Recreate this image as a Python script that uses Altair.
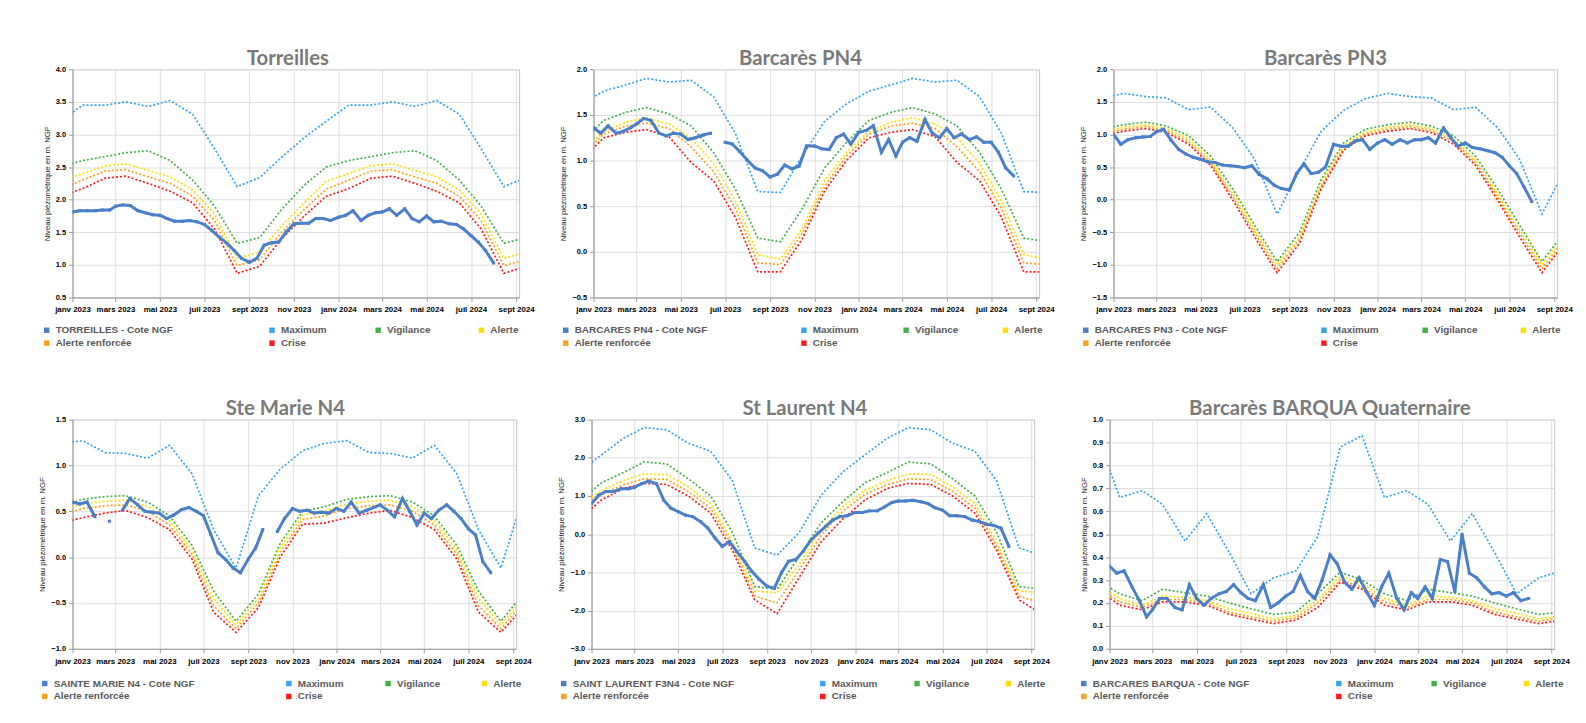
import altair as alt
import pandas as pd

FONT = "Liberation Sans"
TITLE_FONT = "Lato"

MONTHS_FR = ["janv", "févr", "mars", "avr", "mai", "juin", "juil", "août", "sept", "oct", "nov", "déc"]
SERIES_NAMES = ["Maximum", "Vigilance", "Alerte", "Alerte renforcée", "Crise"]
OBS_COLOR = "#4a7fc9"
THR_COLORS = ["#35a3f2", "#45b04a", "#ffe000", "#ffa21a", "#ff1a1a"]
COLOR_OF = dict(zip(SERIES_NAMES, THR_COLORS))

OBS_MONTHS = [(2023, m) for m in range(1, 13)] + [(2024, m) for m in range(1, 9)]
obs_dates = [f"{y}-{m:02d}-{d:02d}" for (y, m) in OBS_MONTHS for d in (1, 11, 21)]
THR_MONTHS = [(2022, 12)] + [(2023, m) for m in range(1, 13)] + [(2024, m) for m in range(1, 10)]
thr_dates = [f"{y}-{m:02d}-15" for (y, m) in THR_MONTHS]

torreilles_obs = [
    1.81, 1.83, 1.83, 1.83, 1.84, 1.84, 1.90, 1.92, 1.91, 1.83, 1.80, 1.77,
    1.76, 1.71, 1.67, 1.67, 1.68, 1.66, 1.62, 1.53, 1.43, 1.33, 1.22, 1.10,
    1.04, 1.10, 1.30, 1.34, 1.35, 1.50, 1.63, 1.64, 1.64, 1.71, 1.71, 1.68,
    1.73, 1.76, 1.83, 1.68, 1.76, 1.80, 1.81, 1.86, 1.76, 1.86, 1.71, 1.66,
    1.75, 1.66, 1.67, 1.63, 1.62, 1.55, 1.45, 1.35, 1.22, 1.03, None, None]
pn4_obs = [
    1.36, 1.30, 1.38, 1.30, 1.32, 1.36, 1.40, 1.46, 1.44, 1.30, 1.27, 1.30,
    1.29, 1.23, 1.25, 1.28, 1.30, None, 1.20, 1.18, 1.10, 1.00, 0.92, 0.89,
    0.82, 0.85, 0.95, 0.91, 0.94, 1.16, 1.16, 1.13, 1.12, 1.25, 1.29, 1.18,
    1.31, 1.33, 1.38, 1.09, 1.23, 1.05, 1.20, 1.25, 1.21, 1.45, 1.30, 1.25,
    1.35, 1.25, 1.29, 1.23, 1.26, 1.20, 1.20, 1.09, 0.92, 0.83, None, None]
pn3_obs = [
    1.00, 0.85, 0.92, 0.95, 0.96, 0.97, 1.04, 1.08, 0.92, 0.77, 0.70, 0.65,
    0.62, 0.58, 0.57, 0.53, 0.52, 0.51, 0.49, 0.52, 0.39, 0.32, 0.22, 0.17,
    0.15, 0.40, 0.55, 0.40, 0.42, 0.50, 0.85, 0.82, 0.82, 0.90, 0.92, 0.77,
    0.87, 0.92, 0.85, 0.92, 0.87, 0.92, 0.92, 0.95, 0.87, 1.10, 0.95, 0.82,
    0.87, 0.80, 0.78, 0.75, 0.72, 0.65, 0.52, 0.40, 0.20, -0.03, None, None]
stemarie_obs = [
    0.60, 0.58, 0.60, 0.44, None, 0.39, None, 0.51, 0.64, 0.57, 0.50, 0.49,
    0.48, 0.42, 0.46, 0.52, 0.54, 0.50, 0.45, 0.25, 0.05, -0.03, -0.12, -0.17,
    -0.02, 0.10, 0.30, None, 0.28, 0.42, 0.53, 0.50, 0.51, 0.48, 0.49, 0.48,
    0.53, 0.50, 0.60, 0.48, 0.51, 0.54, 0.57, 0.51, 0.44, 0.64, 0.50, 0.35,
    0.48, 0.42, 0.51, 0.57, 0.50, 0.42, 0.31, 0.24, -0.05, -0.17, None, None]
stlaurent_obs = [
    0.80, 1.02, 1.12, 1.12, 1.19, 1.19, 1.22, 1.32, 1.39, 1.32, 0.89, 0.68,
    0.59, 0.50, 0.46, 0.33, 0.16, -0.10, -0.32, -0.19, -0.45, -0.71, -0.97, -1.18,
    -1.36, -1.42, -1.01, -0.71, -0.66, -0.45, -0.15, 0.03, 0.20, 0.37, 0.46, 0.48,
    0.57, 0.57, 0.61, 0.61, 0.72, 0.83, 0.87, 0.87, 0.89, 0.85, 0.80, 0.69,
    0.63, 0.48, 0.48, 0.46, 0.37, 0.33, 0.26, 0.23, 0.16, -0.32, None, None]
barqua_obs = [
    0.36, 0.33, 0.34, 0.27, 0.21, 0.14, 0.17, 0.22, 0.22, 0.18, 0.17, 0.28,
    0.22, 0.19, 0.22, 0.24, 0.25, 0.28, 0.245, 0.22, 0.21, 0.28, 0.18, 0.20,
    0.23, 0.25, 0.32, 0.25, 0.22, 0.30, 0.41, 0.37, 0.29, 0.26, 0.31, 0.25,
    0.19, 0.27, 0.33, 0.22, 0.17, 0.245, 0.22, 0.27, 0.22, 0.39, 0.38, 0.25,
    0.50, 0.33, 0.31, 0.27, 0.24, 0.245, 0.23, 0.245, 0.21, 0.22, None, None]

torreilles_max = [3.45, 3.45, 3.50, 3.43, 3.52, 3.31, 2.78, 2.20, 2.34, 2.65, 2.95, 3.20]
torreilles_vig = [2.60, 2.66, 2.72, 2.75, 2.60, 2.30, 1.90, 1.33, 1.42, 1.85, 2.22, 2.50]
torreilles_ale = [2.40, 2.52, 2.55, 2.45, 2.35, 2.15, 1.78, 1.10, 1.20, 1.60, 1.95, 2.28]
torreilles_ren = [2.30, 2.44, 2.46, 2.35, 2.25, 2.05, 1.68, 0.99, 1.08, 1.50, 1.85, 2.16]
torreilles_cri = [2.17, 2.33, 2.36, 2.25, 2.13, 1.95, 1.55, 0.87, 0.98, 1.40, 1.75, 2.05]

pn4_max = [1.76, 1.83, 1.90, 1.86, 1.88, 1.70, 1.30, 0.66, 0.65, 1.05, 1.43, 1.62]
pn4_vig = [1.44, 1.53, 1.58, 1.51, 1.38, 1.09, 0.69, 0.15, 0.11, 0.47, 0.92, 1.20]
pn4_ale = [1.32, 1.42, 1.47, 1.40, 1.25, 0.97, 0.56, -0.03, -0.08, 0.25, 0.78, 1.09]
pn4_ren = [1.29, 1.38, 1.41, 1.35, 1.15, 0.88, 0.48, -0.12, -0.14, 0.20, 0.72, 1.05]
pn4_cri = [1.25, 1.31, 1.34, 1.26, 0.98, 0.78, 0.38, -0.22, -0.22, 0.14, 0.67, 1.00]

pn3_max = [1.63, 1.58, 1.56, 1.38, 1.42, 1.10, 0.62, -0.22, 0.45, 1.05, 1.37, 1.55]
pn3_vig = [1.15, 1.19, 1.13, 0.98, 0.67, 0.16, -0.39, -0.95, -0.50, 0.31, 0.87, 1.08]
pn3_ale = [1.11, 1.15, 1.09, 0.93, 0.61, 0.09, -0.46, -1.00, -0.56, 0.25, 0.83, 1.04]
pn3_ren = [1.08, 1.12, 1.06, 0.89, 0.57, 0.04, -0.51, -1.06, -0.61, 0.21, 0.80, 1.01]
pn3_cri = [1.05, 1.09, 1.03, 0.85, 0.53, -0.01, -0.57, -1.12, -0.67, 0.17, 0.76, 0.98]

stemarie_max = [1.27, 1.14, 1.13, 1.08, 1.22, 0.91, 0.30, -0.12, 0.67, 0.96, 1.16, 1.24]
stemarie_vig = [0.63, 0.66, 0.67, 0.60, 0.45, 0.13, -0.37, -0.70, -0.40, 0.15, 0.50, 0.55]
stemarie_ale = [0.58, 0.61, 0.62, 0.55, 0.40, 0.08, -0.45, -0.74, -0.45, 0.10, 0.46, 0.50]
stemarie_ren = [0.53, 0.56, 0.57, 0.50, 0.35, 0.03, -0.53, -0.78, -0.50, 0.05, 0.41, 0.45]
stemarie_cri = [0.43, 0.48, 0.51, 0.43, 0.30, -0.02, -0.60, -0.82, -0.55, 0.00, 0.36, 0.37]

stlaurent_max = [2.08, 2.52, 2.79, 2.73, 2.38, 2.17, 1.40, -0.36, -0.55, 0.03, 1.02, 1.63]
stlaurent_vig = [1.35, 1.62, 1.89, 1.84, 1.45, 1.00, 0.05, -1.37, -1.44, -0.60, 0.30, 0.85]
stlaurent_ale = [1.15, 1.41, 1.58, 1.56, 1.24, 0.80, -0.19, -1.49, -1.53, -0.80, 0.11, 0.72]
stlaurent_ren = [1.05, 1.30, 1.45, 1.43, 1.12, 0.68, -0.30, -1.62, -1.80, -0.95, -0.03, 0.60]
stlaurent_cri = [0.90, 1.20, 1.33, 1.30, 1.00, 0.55, -0.42, -1.72, -2.08, -1.15, -0.20, 0.40]

barqua_max = [0.66, 0.69, 0.63, 0.47, 0.59, 0.42, 0.24, 0.31, 0.34, 0.49, 0.88, 0.93]
barqua_vig = [0.24, 0.21, 0.26, 0.245, 0.23, 0.20, 0.175, 0.15, 0.16, 0.24, 0.335, 0.30]
barqua_ale = [0.22, 0.19, 0.23, 0.225, 0.21, 0.175, 0.155, 0.13, 0.145, 0.215, 0.315, 0.285]
barqua_ren = [0.205, 0.18, 0.215, 0.215, 0.20, 0.16, 0.14, 0.12, 0.135, 0.20, 0.30, 0.27]
barqua_cri = [0.19, 0.17, 0.205, 0.205, 0.19, 0.15, 0.13, 0.11, 0.125, 0.18, 0.29, 0.26]

PANELS = [
    dict(title="Torreilles", label="TORREILLES - Cote NGF", obs=torreilles_obs,
         thr=[torreilles_max, torreilles_vig, torreilles_ale, torreilles_ren, torreilles_cri],
         ydom=(0.5, 4.0), ystep=0.5, w=450, h=230, tdx=-8,
         lx=-31, lx2=196, ly=258, lpad=0, cp=46),
    dict(title="Barcarès PN4", label="BARCARES PN4 - Cote NGF", obs=pn4_obs,
         thr=[pn4_max, pn4_vig, pn4_ale, pn4_ren, pn4_cri],
         ydom=(-0.5, 2.0), ystep=0.5, w=449, h=230, tdx=-16,
         lx=-33, lx2=207, ly=258, lpad=0, cp=42),
    dict(title="Barcarès PN3", label="BARCARES PN3 - Cote NGF", obs=pn3_obs,
         thr=[pn3_max, pn3_vig, pn3_ale, pn3_ren, pn3_cri],
         ydom=(-1.5, 2.0), ystep=0.5, w=447, h=230, tdx=-10,
         lx=-33, lx2=207, ly=258, lpad=0, cp=41),
    dict(title="Ste Marie N4", label="SAINTE MARIE N4 - Cote NGF", obs=stemarie_obs,
         thr=[stemarie_max, stemarie_vig, stemarie_ale, stemarie_ren, stemarie_cri],
         ydom=(-1.0, 1.5), ystep=0.5, w=447, h=231, tdx=-9,
         lx=-41, lx2=213, ly=261, lpad=8, cp=39),
    dict(title="St Laurent N4", label="SAINT LAURENT F3N4 - Cote NGF", obs=stlaurent_obs,
         thr=[stlaurent_max, stlaurent_vig, stlaurent_ale, stlaurent_ren, stlaurent_cri],
         ydom=(-3.0, 3.0), ystep=1.0, w=446, h=231, tdx=-8,
         lx=-33, lx2=228, ly=261, lpad=0, cp=34),
    dict(title="Barcarès BARQUA Quaternaire", label="BARCARES BARQUA - Cote NGF", obs=barqua_obs,
         thr=[barqua_max, barqua_vig, barqua_ale, barqua_ren, barqua_cri],
         ydom=(0.0, 1.0), ystep=0.1, w=448, h=231, tdx=-2,
         lx=-31, lx2=226, ly=261, lpad=0, cp=35),
]

X_DOMAIN = [alt.DateTime(year=2023, month=1, date=1, utc=True),
            alt.DateTime(year=2024, month=9, date=5, utc=True)]
X_TICKS = [alt.DateTime(year=y, month=m, date=1, utc=True)
           for (y, m) in [(2023, 1), (2023, 3), (2023, 5), (2023, 7), (2023, 9), (2023, 11),
                          (2024, 1), (2024, 3), (2024, 5), (2024, 7), (2024, 9)]]
MONTH_EXPR = "[" + ",".join(f"'{m}'" for m in MONTHS_FR) + "]"
X_LABEL_EXPR = MONTH_EXPR + "[utcmonth(datum.value)] + ' ' + utcyear(datum.value)"

LEGEND_STYLE = dict(title=None, orient="none", rowPadding=3, symbolType="square",
                    symbolSize=30, symbolOpacity=1, symbolStrokeWidth=0, labelFont=FONT,
                    labelFontSize=10, labelFontWeight="bold", labelColor="#595959",
                    labelOffset=4, labelLimit=500)


def make_panel(p):
    label = p["label"]
    # legend A: observed series + "Alerte renforcée" (first legend column)
    names_a = [label, "Alerte renforcée"]
    scale_a = alt.Scale(domain=names_a, range=[OBS_COLOR, COLOR_OF["Alerte renforcée"]])
    # legend B: the other thresholds (columns 2-4)
    names_b = ["Maximum", "Vigilance", "Alerte", "Crise"]
    scale_b = alt.Scale(domain=names_b, range=[COLOR_OF[n] for n in names_b])

    obs_rows, seg = [], 0
    for d, v in zip(obs_dates, p["obs"]):
        if v is None:
            seg += 1
            continue
        obs_rows.append({"date": d, "value": v, "series": label, "seg": seg})
    obs_df = pd.DataFrame(obs_rows)

    lo, hi = p["ydom"]
    n = int(round((hi - lo) / p["ystep"]))
    yticks = [round(lo + i * p["ystep"], 2) for i in range(n + 1)]

    x = alt.X("date:T", scale=alt.Scale(type="utc", domain=X_DOMAIN),
              axis=alt.Axis(values=X_TICKS, labelExpr=X_LABEL_EXPR, title=None,
                            labelFlush=False, labelOverlap=False, labelFontSize=8,
                            labelPadding=4.5, tickSize=4))
    y = alt.Y("value:Q", scale=alt.Scale(domain=[lo, hi], nice=False, zero=False),
              axis=alt.Axis(values=yticks, format=".1f", title="Niveau piézométrique en m. NGF",
                            titleFontSize=7.8, titleFontWeight="normal", titleColor="#222222",
                            titlePadding=4, labelFontSize=7.5, labelPadding=3, tickSize=4))

    legend_a = alt.Legend(legendX=p["lx"], legendY=p["ly"] - p["lpad"], padding=p["lpad"],
                          direction="vertical", columns=1, **LEGEND_STYLE)
    legend_b = alt.Legend(legendX=p["lx2"], legendY=p["ly"], direction="horizontal",
                          columns=3, columnPadding=p["cp"], **LEGEND_STYLE)

    layers = []
    thr_rows = []
    for name, vals in zip(SERIES_NAMES, p["thr"]):
        df = pd.DataFrame({"date": thr_dates, "value": [vals[m - 1] for (yy, m) in THR_MONTHS]})
        layers.append(alt.Chart(df).mark_line(color=COLOR_OF[name], strokeDash=[2, 2],
                                              strokeWidth=1.7, clip=True).encode(x=x, y=y))
        for d, v in zip(df["date"], df["value"]):
            thr_rows.append({"date": d, "value": v, "series": name})
    thr_df = pd.DataFrame(thr_rows)
    thr_df = thr_df[thr_df["series"] != "Alerte renforcée"]

    layers.append(alt.Chart(obs_df).mark_line(color=OBS_COLOR, strokeWidth=3, clip=True).encode(
        x=x, y=y, detail="seg:N"))
    layers.append(alt.Chart(obs_df).mark_square(size=9, opacity=1, clip=True).encode(
        x=x, y=y, fill=alt.Fill("series:N", scale=scale_a, legend=legend_a)))
    # zero-size markers at the threshold vertices: they only carry the threshold legend
    layers.append(alt.Chart(thr_df).mark_square(size=0, opacity=1, clip=True).encode(
        x=x, y=y, color=alt.Color("series:N", scale=scale_b, legend=legend_b)))

    return alt.layer(*layers).properties(
        width=p["w"], height=p["h"],
        title=alt.TitleParams(text=p["title"], font=TITLE_FONT, fontSize=20.5, fontWeight="bold",
                              color="#7a7a7a", anchor="middle", frame="group", dx=p["tdx"],
                              offset=-20, baseline="alphabetic"))


def row(panels, spacing):
    return alt.hconcat(*[make_panel(p) for p in panels],
                       spacing=spacing, bounds="flush").resolve_scale(
        fill="independent", color="independent", x="independent", y="independent"
    ).resolve_legend(fill="independent", color="independent")


top = row(PANELS[:3], 75)
bottom = row(PANELS[3:], 76)

chart = alt.vconcat(top, bottom, spacing=50, bounds="full").resolve_scale(
    fill="independent", color="independent", x="independent", y="independent"
).resolve_legend(fill="independent", color="independent").properties(
    padding={"left": 23, "top": 38, "right": 5, "bottom": 5}
).configure(background="white").configure_view(
    stroke="#c4c4c4", strokeWidth=1
).configure_axis(
    labelFont=FONT, labelFontWeight="bold", labelColor="#000000", titleFont=FONT,
    gridColor="#dedede", gridWidth=1, domainColor="#9a9a9a", tickColor="#9a9a9a"
)

chart.save("out.html", embed_options={"renderer": "svg", "actions": False})
